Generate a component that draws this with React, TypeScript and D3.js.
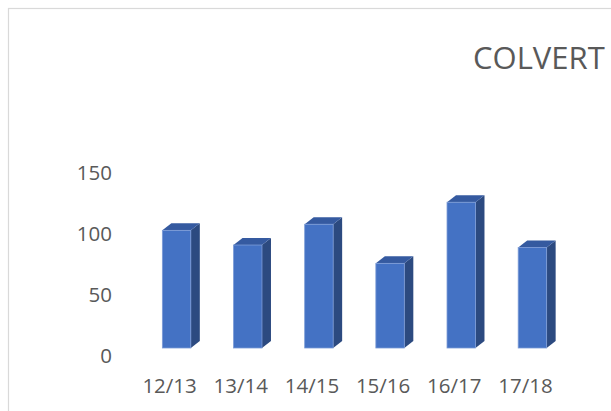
import React from "react";
import * as d3 from "d3";

const categories = ["12/13", "13/14", "14/15", "15/16", "16/17", "17/18"];
const values = [102, 90, 107, 75, 125, 88];
const yTicks = [0, 50, 100, 150];
const title = "COLVERT";

const W = 611;
const H = 411;

export default function App() {
  const x = d3.scaleBand<string>().domain(categories).range([141, 568]).padding(0);
  const y = d3.scaleLinear().domain([0, 150]).range([355, 171.7]);
  const barW = x.bandwidth() * 0.4;
  const dx = 9;
  const dy = 7;
  const floorOffset = 7;
  const font = "'Open Sans', sans-serif";
  const textColor = "#595959";

  return (
    <svg
      width={W}
      height={H}
      style={{ position: "absolute", left: 0, top: 0, background: "#fff" }}
    >
      <rect x={0} y={0} width={W} height={H} fill="#fff" />
      <rect x={8.5} y={8.5} width={W + 20} height={H + 20} fill="#fff" stroke="#d9d9d9" strokeWidth={1.2} />
      <text
        x={473}
        y={69}
        fontFamily={font}
        fontSize={31}
        fill={textColor}
      >
        {title}
      </text>
      {yTicks.map((t) => (
        <text
          key={t}
          x={112}
          y={y(t)}
          textAnchor="end"
          dominantBaseline="central"
          fontFamily={font}
          fontSize={20.5}
          fill={textColor}
        >
          {t}
        </text>
      ))}
      {categories.map((c, i) => {
        const cx = (x(c) as number) + x.bandwidth() / 2;
        const x0 = cx - barW / 2;
        const x1 = cx + barW / 2;
        const yb = y(0) - floorOffset;
        const yt = y(values[i]);
        const top = `M${x0},${yt} L${x0 + dx},${yt - dy} L${x1 + dx},${yt - dy} L${x1},${yt} Z`;
        const side = `M${x1},${yt} L${x1 + dx},${yt - dy} L${x1 + dx},${yb - dy} L${x1},${yb} Z`;
        return (
          <g key={c}>
            <path d={side} fill="#2C4A80" />
            <path d={top} fill="#355AA0" />
            <rect x={x0} y={yt} width={barW} height={yb - yt} fill="#4472C4" stroke="#7C9BD6" strokeWidth={0.8} />
            <text
              x={cx - 7}
              y={385}
              textAnchor="middle"
              dominantBaseline="central"
              fontFamily={font}
              fontSize={20.5}
              fill={textColor}
            >
              {c}
            </text>
          </g>
        );
      })}
    </svg>
  );
}
